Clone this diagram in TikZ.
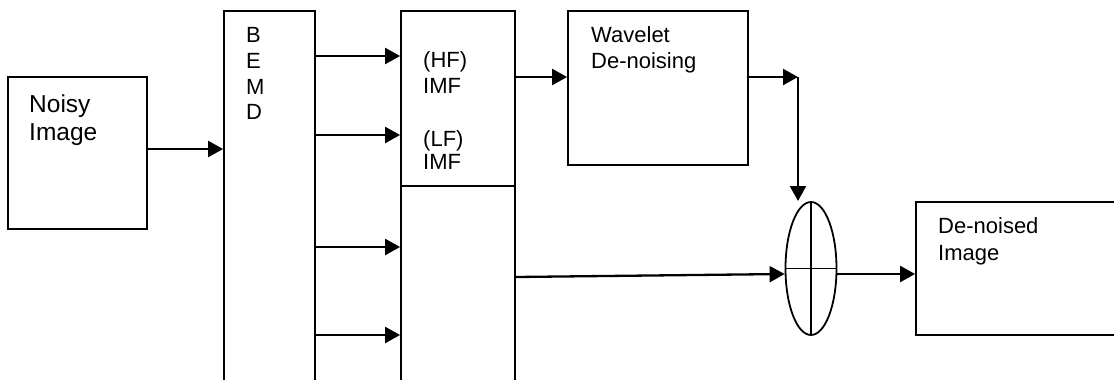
\documentclass[tikz,border=0pt]{standalone}
\usepackage{fontspec}
\setmainfont{Liberation Sans}
\usetikzlibrary{arrows.meta,shapes.geometric}
\begin{document}
\begin{tikzpicture}[x=1pt,y=-1pt,
  box/.style={draw,line width=1.8pt,rectangle,inner sep=0pt},
  arr/.style={line width=2.3pt,-{Triangle[length=15pt,width=16pt]}},
  lbl/.style={anchor=base west,inner sep=0pt,font=\fontsize{22}{26}\selectfont},
  biglbl/.style={anchor=base west,inner sep=0pt,font=\fontsize{24.5}{28}\selectfont}]
\useasboundingbox (0,0) rectangle (1114,380);
\clip (0,0) rectangle (1114,380);
% boxes
\node[box,minimum width=139pt,minimum height=152pt] (noisy) at (77.5,153) {};
\node[box,minimum width=91pt,minimum height=400pt] (bemd) at (269.5,211) {};
\node[box,minimum width=114pt,minimum height=175pt] (imftop) at (458,98.5) {};
\node[box,minimum width=114pt,minimum height=214pt] (imfbot) at (458,293) {};
\node[box,minimum width=180pt,minimum height=154pt] (wave) at (658,88) {};
\node[box,minimum width=260pt,minimum height=133pt] (out) at (1046,268.5) {};
\node[draw,line width=1.8pt,ellipse,minimum width=51pt,minimum height=133pt,inner sep=0pt] (sum) at (811,268.5) {};
\draw[line width=1.5pt] (sum.north) -- (sum.south);
\draw[line width=1.5pt] (sum.west) -- (sum.east);
% texts
\node[biglbl] (t1) at (29,112) {Noisy};
\node[biglbl] (t2) at (29,140) {Image};
\node[lbl] (b1) at (246,42) {B};
\node[lbl] (b2) at (246,68) {E};
\node[lbl] (b3) at (246,94) {M};
\node[lbl] (b4) at (246,119) {D};
\node[lbl] (h1) at (423,67) {(HF)};
\node[lbl] (h2) at (423,93) {IMF};
\node[lbl] (l1) at (423,146) {(LF)};
\node[lbl] (l2) at (423,169) {IMF};
\node[lbl] (w1) at (591,42) {Wavelet};
\node[lbl] (w2) at (591,68) {De-noising};
\node[lbl] (d1) at (938,233) {De-noised};
\node[lbl] (d2) at (938,260) {Image};
% connectors
\coordinate (corner) at (798,77);
\coordinate (downend) at (798,201);
\draw[arr] (noisy.east |- 0,149) -- (bemd.west |- 0,149);
\foreach \y in {56,135,247,335}
  \draw[arr] (bemd.east |- 0,\y) -- (imftop.west |- 0,\y);
\draw[arr] (imftop.east |- 0,77) -- (wave.west |- 0,77);
\draw[arr] (wave.east |- 0,77) -- (corner);
\draw[arr] (corner) -- (downend);
\draw[arr] (imfbot.east |- 0,277) -- (sum.west |- 0,274);
\draw[arr] (sum.east |- 0,274) -- (out.west |- 0,274);
\end{tikzpicture}
\end{document}
